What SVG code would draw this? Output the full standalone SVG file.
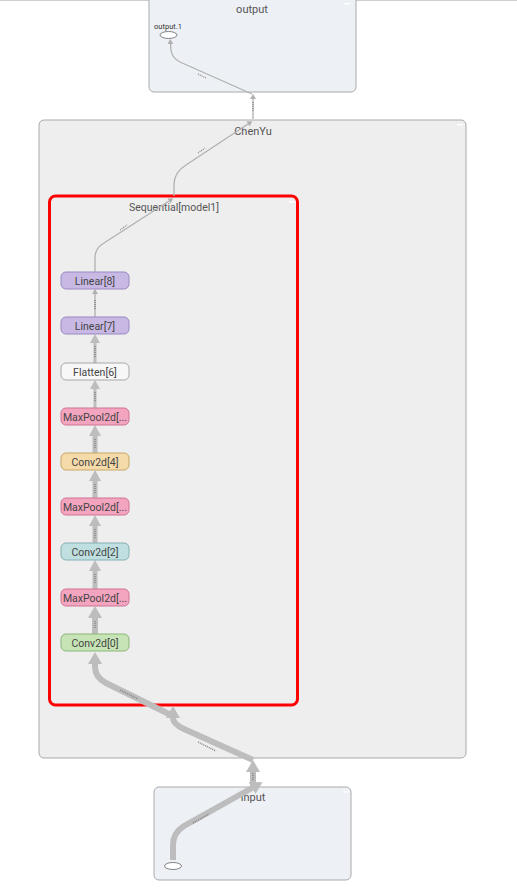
<svg xmlns="http://www.w3.org/2000/svg" width="517" height="888" viewBox="0 0 517 888">
<style>
text{font-family:Roboto,"Liberation Sans",sans-serif;text-anchor:middle}
.title{font-size:11px;fill:#555}
.nl{font-size:10.5px;fill:#444}
.small{font-size:7.5px;fill:#333}
.grp{fill:#eeeeee;stroke:#aaaaaa;stroke-width:1}
.io{fill:#edf0f5;stroke:#aaaaaa;stroke-width:1}
.mini{fill:#ffffff}
.node{stroke-width:1}
.lin{fill:#c8b9e4;stroke:#9a88c2}
.flat{fill:#f7f7f7;stroke:#a8a8a8}
.pool{fill:#f3a4bf;stroke:#cf7394}
.c4{fill:#f4dba9;stroke:#c8a765}
.c2{fill:#bfdfe0;stroke:#86b0b3}
.c0{fill:#c6e4b5;stroke:#8db57a}
.e{fill:none;stroke:#bdbdbd}
.et{fill:none;stroke:#b0b0b0;stroke-width:1.3}
.lbl{fill:none;stroke:#858585;stroke-dasharray:1 1}
.ah{fill:#bdbdbd}
.aht{fill:#b0b0b0}
</style>
<defs>
<marker id="as" markerUnits="userSpaceOnUse" markerWidth="8" markerHeight="8" refX="0" refY="3" orient="auto"><path class="aht" d="M0,0 L5,3 L0,6 Z"/></marker>
<marker id="am" markerUnits="userSpaceOnUse" markerWidth="12" markerHeight="12" refX="0" refY="5" orient="auto"><path class="ah" d="M0,0 L9,5 L0,10 Z"/></marker>
<marker id="al" markerUnits="userSpaceOnUse" markerWidth="14" markerHeight="14" refX="0" refY="6" orient="auto"><path class="ah" d="M0,0 L11,6 L0,12 Z"/></marker>
<marker id="ax" markerUnits="userSpaceOnUse" markerWidth="16" markerHeight="16" refX="0" refY="7" orient="auto"><path class="ah" d="M0,0 L12,7 L0,14 Z"/></marker>
</defs>
<line x1="0" y1="0.5" x2="517" y2="0.5" stroke="#cfcfcf" stroke-width="1"/>

<g id="output">
<rect class="io" x="149" y="-6" width="207" height="98" rx="5"/>
<rect class="mini" x="344" y="3" width="6" height="1.5"/>
<text class="title" x="252" y="13">output</text>
</g>
<g id="output.1">
<text class="small" x="168" y="29">output.1</text>
<ellipse cx="168.5" cy="35" rx="8.5" ry="3.5" fill="#ffffff" stroke="#666" stroke-width="0.8"/>
</g>

<g id="ChenYu">
<rect class="grp" x="39" y="120" width="427" height="638" rx="5"/>
<rect class="mini" x="457" y="124" width="6" height="1.5"/>
<text class="title" x="253" y="135">ChenYu</text>
</g>

<g id="Sequential_model1">
<rect x="49.5" y="196" width="248" height="509" rx="6" fill="#eeeeee" stroke="#ff0000" stroke-width="3"/>
<rect class="mini" x="289" y="201" width="6" height="1.5"/>
<text class="title" x="174" y="211" style="font-size:10.5px">Sequential[model1]</text>
</g>

<g id="input">
<rect class="io" x="154" y="787" width="197" height="93" rx="5"/>
<rect class="mini" x="343" y="791" width="6" height="1.5"/>
<text class="title" x="253" y="801">input</text>
</g>
<g id="x">
<ellipse cx="173" cy="866" rx="8.5" ry="3.5" fill="#ffffff" stroke="#666" stroke-width="0.8"/>
<text class="small" x="173" y="860">x</text>
</g>

<g id="connectors">
<path class="et" d="M252 94 L180 62 Q172 58 171 50 L170.5 44" marker-end="url(#as)"/>
<path class="et" d="M253 119 L253 99" marker-end="url(#as)"/>
<path class="et" d="M174 196 L174 185 Q174 172 186 165 L248 124" marker-end="url(#as)"/>
<path class="et" d="M95 272 L95 258 Q95 248 104 243 L169 201" marker-end="url(#as)"/>
<path class="et" d="M95 317 L95 294" marker-end="url(#as)"/>
<path class="e" style="stroke-width:3" d="M95 363 L95 343" marker-end="url(#am)"/>
<path class="e" style="stroke-width:3" d="M95 408 L95 389" marker-end="url(#am)"/>
<path class="e" style="stroke-width:5" d="M95 453 L95 436" marker-end="url(#al)"/>
<path class="e" style="stroke-width:5" d="M95 498 L95 481" marker-end="url(#al)"/>
<path class="e" style="stroke-width:5" d="M95 543 L95 526" marker-end="url(#al)"/>
<path class="e" style="stroke-width:5" d="M95 589 L95 571" marker-end="url(#al)"/>
<path class="e" style="stroke-width:6" d="M95 634 L95 618" marker-end="url(#ax)"/>
<path class="e" style="stroke-width:6" d="M173 716 L106 683 Q95 677 95 667 L95 664" marker-end="url(#ax)"/>
<path class="e" style="stroke-width:6" d="M253 760 L184 729 Q173 724 173 718" marker-end="url(#ax)"/>
<path class="e" style="stroke-width:6" d="M253 787 L253 772" marker-end="url(#ax)"/>
<path class="e" style="stroke-width:6" d="M173 860 L173 845 Q173 833 184 826 L252 788" marker-end="url(#ax)"/>
<path class="lbl" stroke-width="1.2" d="M198 74 L206 78"/>
<path class="lbl" stroke-width="1.2" d="M253 102 L253 112"/>
<path class="lbl" stroke-width="1.2" d="M198 153 L205 148"/>
<path class="lbl" stroke-width="1.2" d="M120 230 L127 225"/>
<path class="lbl" stroke-width="1.5" d="M95 300 L95 309"/>
<path class="lbl" stroke-width="1.5" d="M95 346 L95 357"/>
<path class="lbl" stroke-width="1.5" d="M95 392 L95 402"/>
<path class="lbl" stroke-width="1.5" d="M95 439 L95 448"/>
<path class="lbl" stroke-width="1.5" d="M95 484 L95 493"/>
<path class="lbl" stroke-width="1.5" d="M95 529 L95 538"/>
<path class="lbl" stroke-width="1.5" d="M95 574 L95 584"/>
<path class="lbl" stroke-width="1.5" d="M95 621 L95 629"/>
<path class="lbl" stroke-width="1.5" d="M120 690 L138 699"/>
<path class="lbl" stroke-width="1.5" d="M198 742 L216 751"/>
<path class="lbl" stroke-width="1.5" d="M253 773 L253 781"/>
<path class="lbl" stroke-width="1.5" d="M193 823 L209 814"/>
</g>

<g id="Linear_8" class="node"><rect class="lin" x="61" y="272" width="68" height="17" rx="5"/><text class="nl" x="95" y="284.5">Linear[8]</text></g>
<g id="Linear_7" class="node"><rect class="lin" x="61" y="317" width="68" height="17" rx="5"/><text class="nl" x="95" y="329.5">Linear[7]</text></g>
<g id="Flatten_6" class="node"><rect class="flat" x="61" y="363" width="68" height="17" rx="5"/><text class="nl" x="95" y="375.5">Flatten[6]</text></g>
<g id="MaxPool2d_5" class="node"><rect class="pool" x="61" y="408" width="68" height="17" rx="5"/><text class="nl" x="95" y="420.5">MaxPool2d[...</text></g>
<g id="Conv2d_4" class="node"><rect class="c4" x="61" y="453" width="68" height="17" rx="5"/><text class="nl" x="95" y="465.5">Conv2d[4]</text></g>
<g id="MaxPool2d_3" class="node"><rect class="pool" x="61" y="498" width="68" height="17" rx="5"/><text class="nl" x="95" y="510.5">MaxPool2d[...</text></g>
<g id="Conv2d_2" class="node"><rect class="c2" x="61" y="543" width="68" height="17" rx="5"/><text class="nl" x="95" y="555.5">Conv2d[2]</text></g>
<g id="MaxPool2d_1" class="node"><rect class="pool" x="61" y="589" width="68" height="17" rx="5"/><text class="nl" x="95" y="601.5">MaxPool2d[...</text></g>
<g id="Conv2d_0" class="node"><rect class="c0" x="61" y="634" width="68" height="17" rx="5"/><text class="nl" x="95" y="646.5">Conv2d[0]</text></g>
</svg>
